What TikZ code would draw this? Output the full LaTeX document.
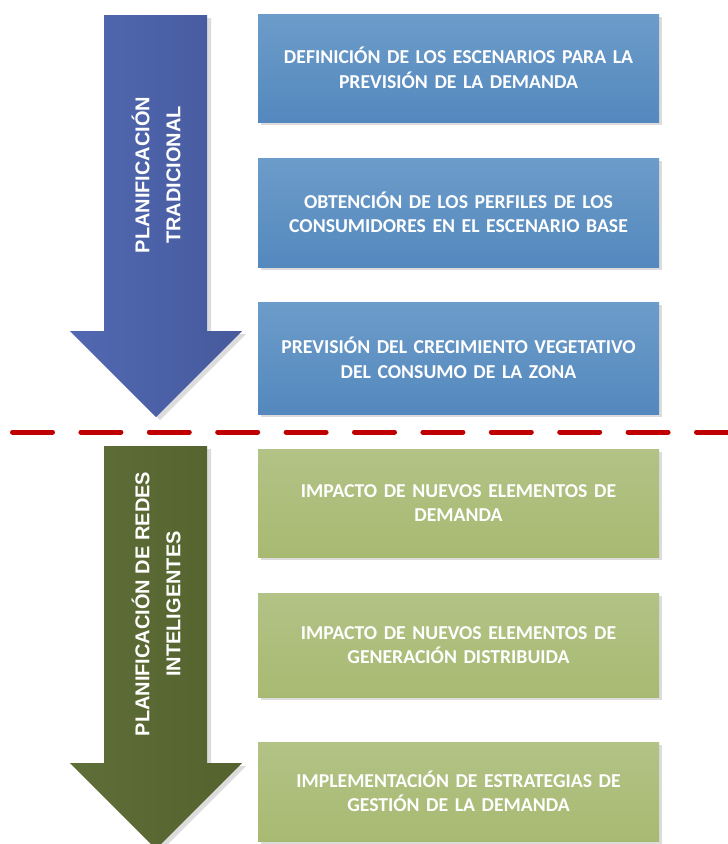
\documentclass[tikz,border=0pt]{standalone}
\usepackage{fontspec}
\setmainfont{Carlito}
\newfontfamily\arrowfont{Liberation Sans}
\usetikzlibrary{shadows}
\definecolor{bluetop}{HTML}{6C9CC9}
\definecolor{bluebot}{HTML}{5488BE}
\definecolor{greentop}{HTML}{B3C286}
\definecolor{greenbot}{HTML}{A8BA72}
\definecolor{arrbluel}{HTML}{5168B2}
\definecolor{arrbluer}{HTML}{465A9C}
\definecolor{arrgreenl}{HTML}{5F6F38}
\definecolor{arrgreenr}{HTML}{54622E}
\definecolor{dashred}{HTML}{C00000}
\definecolor{shadowgray}{HTML}{DCDCDC}
\begin{document}
\begin{tikzpicture}[x=1pt,y=-1pt,
  stepbox/.style={minimum width=401pt, minimum height=108pt, inner sep=0pt,
    text width=390pt, align=center, text=white,
    font=\fontsize{19.7}{24.5}\selectfont\bfseries,
    general shadow={fill=shadowgray, shadow xshift=3pt, shadow yshift=-3pt}},
  bluebox/.style={stepbox, top color=bluetop, bottom color=bluebot},
  greenbox/.style={stepbox, top color=greentop, bottom color=greenbot},
  arrowlabel/.style={rotate=90, align=center, text=white,
    font=\arrowfont\fontsize{20}{31}\selectfont\bfseries},
  arrshadow/.style={fill=shadowgray},
  separator/.style={draw=dashred, line width=5pt, line cap=round, dash pattern=on 40pt off 28.4pt}
]
\clip (0,0) rectangle (728,844);
\fill[white] (0,0) rectangle (728,844);

% blue arrow
\fill[arrshadow] (108,18) -- (211,18) -- (211,334) -- (246,334) -- (160,420) -- (74,334) -- (108,334) -- cycle;
\shade[left color=arrbluel, right color=arrbluer] (104,15) -- (207,15) -- (207,331) -- (242,331) -- (156,417) -- (70,331) -- (104,331) -- cycle;
\node[arrowlabel] (lblA) at (156,175) {PLANIFICACIÓN\\TRADICIONAL};

% green arrow
\fill[arrshadow] (108,449) -- (211,449) -- (211,766) -- (246,766) -- (160,852) -- (74,766) -- (108,766) -- cycle;
\shade[left color=arrgreenl, right color=arrgreenr] (104,446) -- (207,446) -- (207,763) -- (242,763) -- (156,849) -- (70,763) -- (104,763) -- cycle;
\node[arrowlabel] (lblB) at (156,604) {PLANIFICACIÓN DE REDES\\INTELIGENTES};

% separator
\coordinate (sepL) at (12.5,432);
\coordinate (sepR) at (740,432);
\draw[separator] (sepL) -- (sepR);

% blue boxes
\node[bluebox, minimum height=108pt] (b1) at (458.5,68) {DEFINICIÓN DE LOS ESCENARIOS PARA LA\\PREVISIÓN DE LA DEMANDA};
\node[bluebox, minimum height=109pt] (b2) at (458.5,212.5) {OBTENCIÓN DE LOS PERFILES DE LOS\\CONSUMIDORES EN EL ESCENARIO BASE};
\node[bluebox, minimum height=112pt] (b3) at (458.5,358) {PREVISIÓN DEL CRECIMIENTO VEGETATIVO\\DEL CONSUMO DE LA ZONA};

% green boxes
\node[greenbox, minimum height=108pt] (g1) at (458.5,503) {IMPACTO DE NUEVOS ELEMENTOS DE\\DEMANDA};
\node[greenbox, minimum height=104pt] (g2) at (458.5,645) {IMPACTO DE NUEVOS ELEMENTOS DE\\GENERACIÓN DISTRIBUIDA};
\node[greenbox, minimum height=99pt] (g3) at (458.5,791.5) {IMPLEMENTACIÓN DE ESTRATEGIAS DE\\GESTIÓN DE LA DEMANDA};
\end{tikzpicture}
\end{document}
